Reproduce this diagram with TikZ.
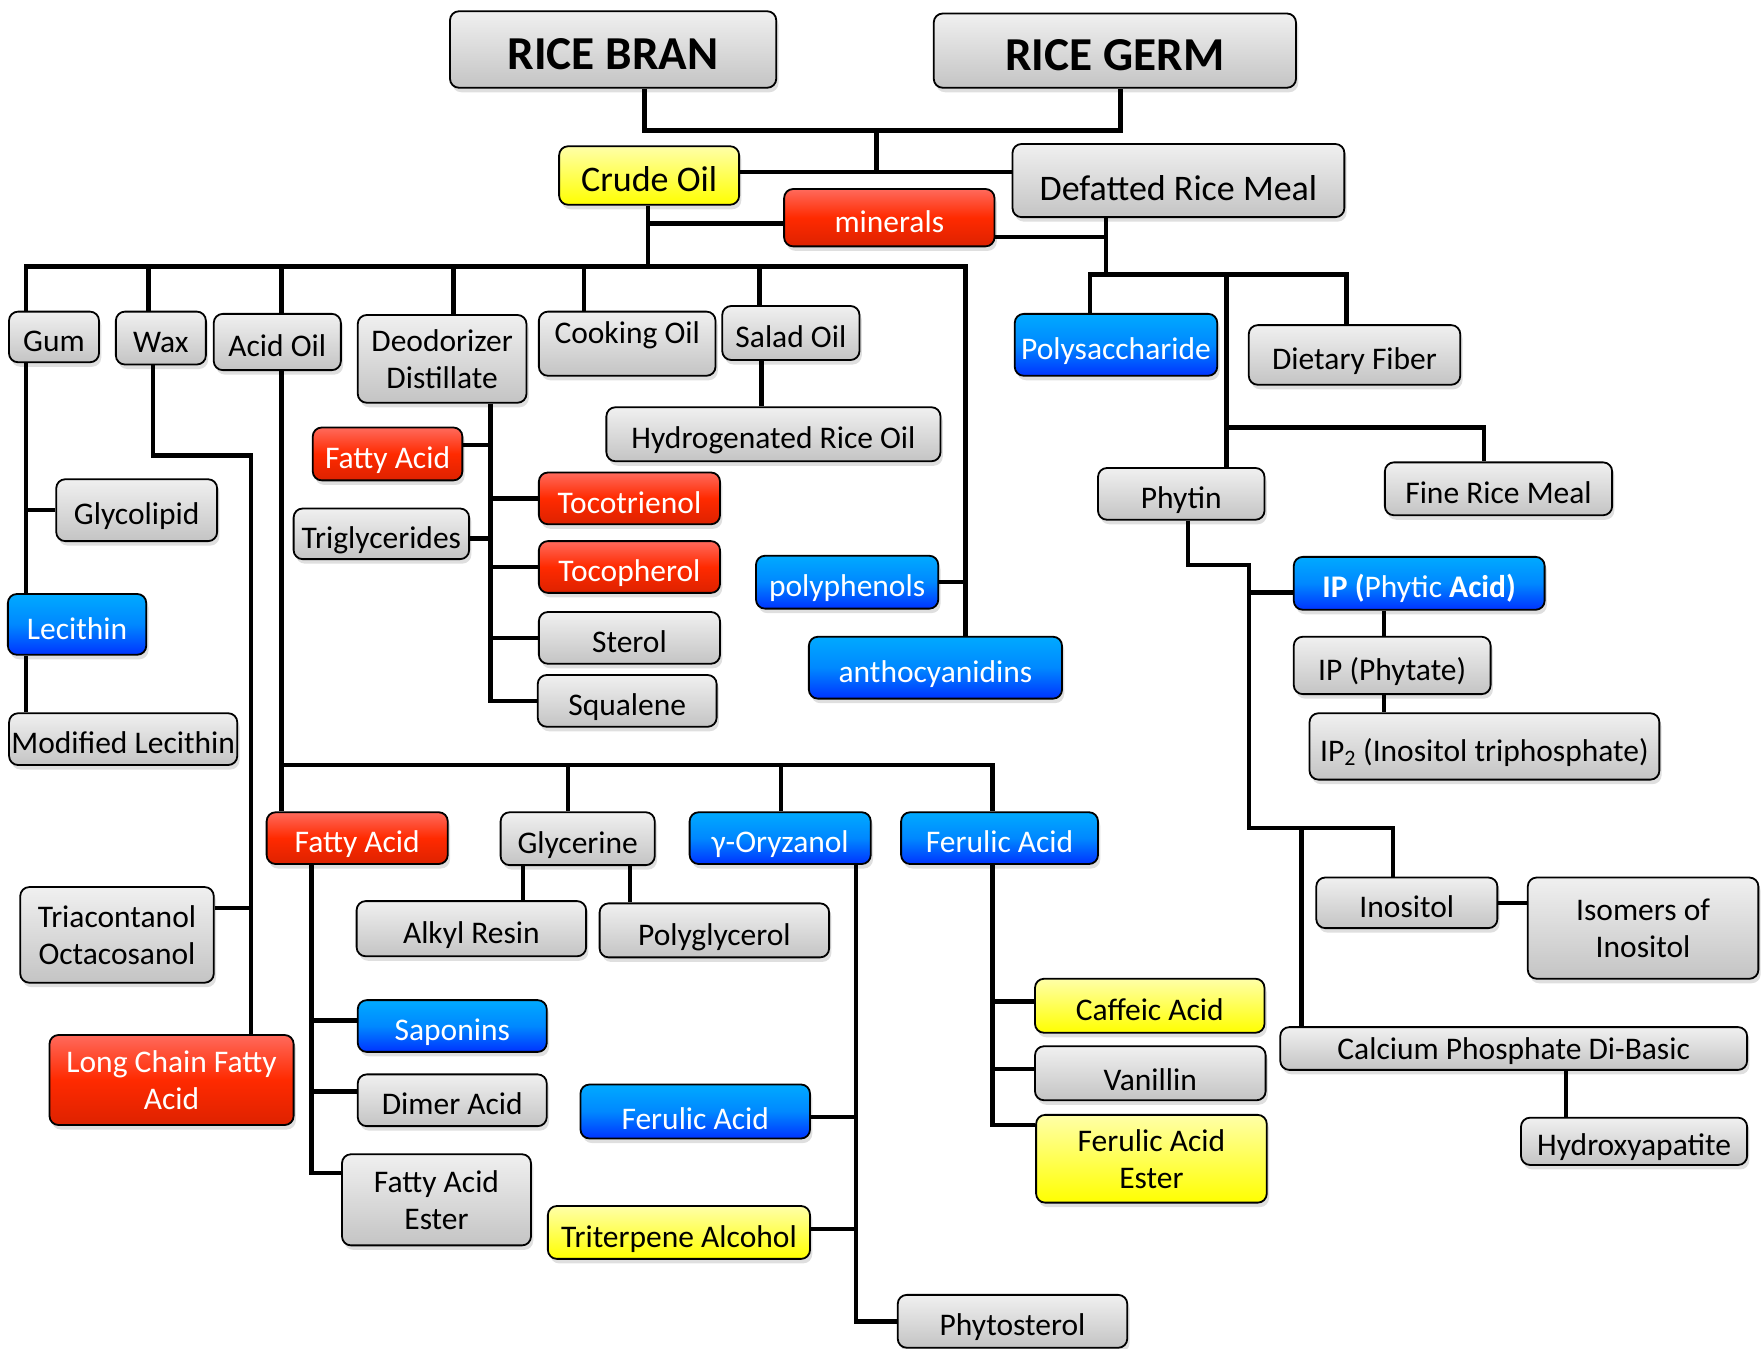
\documentclass[tikz,border=0pt]{standalone}
\usepackage{fontspec}
\setmainfont{Carlito}
\usetikzlibrary{shadows}
\definecolor{graytop}{HTML}{F0F0F0}
\definecolor{graybot}{HTML}{C4C4C4}
\definecolor{redtop}{HTML}{FF6A5C}
\definecolor{redmid}{HTML}{FF2A00}
\definecolor{redbot}{HTML}{DD2200}
\definecolor{bluetop}{HTML}{00AAFF}
\definecolor{bluemid}{HTML}{0088FF}
\definecolor{bluebot}{HTML}{0033FF}
\definecolor{yeltop}{HTML}{FFFFA8}
\definecolor{yelbot}{HTML}{FFFF00}

\begin{document}
\begin{tikzpicture}[x=1pt, y=-1pt]

      \tikzset{box/.style={draw=black, line width=1.6pt, rounded corners=8pt, inner sep=2pt, align=center,
                 font=\fontsize{28}{33}\selectfont, text height=32pt, text depth=6pt,
                 drop shadow={shadow xshift=2pt, shadow yshift=-4pt, opacity=.25}},
               twolines/.style={text height={}, text depth={}},
               greybox/.style={box, top color=graytop, bottom color=graybot, text=black},
               redbox/.style={box, top color=redtop, bottom color=redbot, middle color=redmid, text=white},
               bluebox/.style={box, top color=bluetop, bottom color=bluebot, middle color=bluemid, text=white},
               yellowbox/.style={box, top color=yeltop, bottom color=yelbot, text=black},
               title/.style={font=\bfseries\fontsize{42}{48}\selectfont, text height=44pt, text depth=9pt},
               conn/.style={line width=4pt}}
      \useasboundingbox (0,0) rectangle (1568,1199);
%% Sources
      \node[greybox, title, minimum width=290pt, minimum height=68pt] (bran) at (545,44) {RICE BRAN};
      \node[greybox, title, minimum width=322pt, minimum height=66pt] (germ) at (991,45) {RICE GERM};
      \node[yellowbox, font=\fontsize{32}{38}\selectfont, text height=35pt, text depth=6.4pt, minimum width=160pt, minimum height=52pt] (crude) at (577,156) {Crude Oil};
      \node[greybox, font=\fontsize{32}{38}\selectfont, text height=42pt, text depth=6.4pt, minimum width=295pt, minimum height=65pt] (defatted) at (1047.5,160.5) {Defatted Rice Meal};
      \node[redbox, minimum width=187pt, minimum height=51pt] (minerals) at (790.5,193.5) {minerals};
%% Crude oil products
      \node[greybox, minimum width=80pt, minimum height=45pt] (gum) at (48,299.5) {Gum};
      \node[greybox, minimum width=80pt, minimum height=47pt] (wax) at (143,300.5) {Wax};
      \node[greybox, minimum width=113pt, minimum height=50pt] (acidoil) at (246.5,304) {Acid Oil};
      \node[greybox, twolines, minimum width=150pt, minimum height=78pt] (deod) at (393,319) {Deodorizer\\Distillate};
      \node[greybox, minimum width=157pt, minimum height=57pt, text height=19pt, text depth=20pt] (cooking) at (557.5,305.5) {Cooking Oil};
      \node[greybox, minimum width=122pt, minimum height=48pt] (salad) at (703,296) {Salad Oil};
      \node[greybox, minimum width=297pt, minimum height=48pt] (hydro) at (687.5,386) {Hydrogenated Rice Oil};
      \node[bluebox, minimum width=162pt, minimum height=47pt] (polyph) at (753,517.5) {polyphenols};
      \node[bluebox, minimum width=225pt, minimum height=55pt] (antho) at (831.5,593.5) {anthocyanidins};
%% Gum and wax
      \node[greybox, minimum width=143pt, minimum height=55pt] (glycolipid) at (121.5,453.5) {Glycolipid};
      \node[bluebox, minimum width=123pt, minimum height=54pt] (lecithin) at (68.5,555) {Lecithin};
      \node[greybox, minimum width=201pt, minimum height=46pt] (modlec) at (109.5,657) {Modified Lecithin};
      \node[greybox, twolines, minimum width=172pt, minimum height=85pt] (triacont) at (104,831) {Triacontanol\\Octacosanol};
      \node[redbox, twolines, minimum width=217pt, minimum height=80pt] (longchain) at (152.5,960) {Long Chain Fatty\\Acid};
%% Deodorizer distillate
      \node[redbox, minimum width=133pt, minimum height=47pt] (fatty1) at (344.5,403.5) {Fatty Acid};
      \node[greybox, minimum width=156pt, minimum height=45pt] (trigly) at (339,474.5) {Triglycerides};
      \node[redbox, minimum width=161pt, minimum height=46pt] (tocotri) at (559.5,443) {Tocotrienol};
      \node[redbox, minimum width=161pt, minimum height=46pt] (tocoph) at (559.5,504) {Tocopherol};
      \node[greybox, minimum width=161pt, minimum height=46pt] (sterol) at (559.5,567) {Sterol};
      \node[greybox, minimum width=159pt, minimum height=46pt] (squalene) at (557.5,623) {Squalene};
%% Acid oil
      \node[redbox, minimum width=161pt, minimum height=46pt] (fatty2) at (317.5,745) {Fatty Acid};
      \node[greybox, minimum width=137pt, minimum height=47pt] (glycerine) at (513.5,745.5) {Glycerine};
      \node[bluebox, minimum width=161pt, minimum height=46pt] (oryzanol) at (693.5,745) {γ-Oryzanol};
      \node[bluebox, minimum width=175pt, minimum height=46pt] (ferulic1) at (888.5,745) {Ferulic Acid};
      \node[greybox, minimum width=204pt, minimum height=49pt] (alkyl) at (419,825.5) {Alkyl Resin};
      \node[greybox, minimum width=204pt, minimum height=48pt] (polyglyc) at (635,827) {Polyglycerol};
      \node[bluebox, minimum width=168pt, minimum height=46pt] (saponins) at (402,912) {Saponins};
      \node[greybox, minimum width=168pt, minimum height=46pt] (dimer) at (402,978) {Dimer Acid};
      \node[greybox, twolines, minimum width=168pt, minimum height=81pt] (faester) at (388,1066.5) {Fatty Acid\\Ester};
      \node[bluebox, minimum width=204pt, minimum height=48pt, text height=38pt] (ferulic2) at (618,988) {Ferulic Acid};
      \node[yellowbox, minimum width=233pt, minimum height=47pt] (triterp) at (603.5,1095.5) {Triterpene Alcohol};
      \node[greybox, minimum width=204pt, minimum height=47pt] (phytost) at (900,1174.5) {Phytosterol};
      \node[yellowbox, minimum width=204pt, minimum height=48pt] (caffeic) at (1022,894) {Caffeic Acid};
      \node[greybox, minimum width=205pt, minimum height=48pt, text height=36pt] (vanillin) at (1022.5,954) {Vanillin};
      \node[yellowbox, twolines, minimum width=205pt, minimum height=78pt] (ferester) at (1023.5,1030) {Ferulic Acid\\Ester};
%% Defatted rice meal
      \node[bluebox, minimum width=180pt, minimum height=55pt] (polysacch) at (992,306.5) {Polysaccharide};
      \node[greybox, minimum width=188pt, minimum height=53pt] (fiber) at (1204,315.5) {Dietary Fiber};
      \node[greybox, minimum width=148pt, minimum height=46pt] (phytin) at (1050,439) {Phytin};
      \node[greybox, minimum width=202pt, minimum height=47pt] (finemeal) at (1332,434.5) {Fine Rice Meal};
      \node[bluebox, minimum width=223pt, minimum height=47pt] (phytic) at (1261.5,518.5) {\textbf{IP (}Phytic \textbf{Acid)}};
      \node[greybox, minimum width=175pt, minimum height=51pt] (phytate) at (1237.5,591.5) {IP (Phytate)};
      \node[greybox, minimum width=311pt, minimum height=59pt] (ip2) at (1319.5,663.5) {IP\textsubscript{2} (Inositol triphosphate)};
      \node[greybox, minimum width=161pt, minimum height=45pt] (inositol) at (1250.5,802.5) {Inositol};
      \node[greybox, twolines, minimum width=205pt, minimum height=90pt] (isomers) at (1460.5,825) {Isomers of\\Inositol};
      \node[greybox, minimum width=415pt, minimum height=38pt, text height=26pt] (calcium) at (1345.5,932) {Calcium Phosphate Di-Basic};
      \node[greybox, minimum width=201pt, minimum height=41pt] (hydroxy) at (1452.5,1014.5) {Hydroxyapatite};
%Junctions
      \coordinate (jbran) at (573,116); \coordinate (jgerm) at (996,116);
      \coordinate (jtop) at (779,116);  \coordinate (jmid) at (779,153);
      \coordinate (joil) at (576,237);  \coordinate (busL) at (23,237); \coordinate (busR) at (858,237);
      \coordinate (twax) at (132,237);  \coordinate (tacidoil) at (250,237); \coordinate (tdeod) at (403,237);
      \coordinate (tcooking) at (519,237); \coordinate (tsalad) at (675,237);
      \coordinate (jwax1) at (136,405); \coordinate (jwax2) at (223,405);
      \coordinate (jdeo) at (436,623);  \coordinate (jsal) at (677,320);
      \coordinate (jacid) at (250,680); \coordinate (jferu) at (882,680);
      \coordinate (tglycerine) at (505,680); \coordinate (toryzanol) at (694,680);
      \coordinate (jfa) at (277,768);   \coordinate (jalk) at (465,769); \coordinate (jpg) at (560,769);
      \coordinate (jory) at (761,768);
      \coordinate (jdef) at (983,244);  \coordinate (jpoly) at (969,244); \coordinate (jfib) at (1197,244);
      \coordinate (jphy) at (1090,244); \coordinate (jfine) at (1319,380);
      \coordinate (jphyt1) at (1056,502); \coordinate (jphyt2) at (1110,502);
      \coordinate (jino1) at (1110,736); \coordinate (jino2) at (1238,736); \coordinate (jcal) at (1157,736);
      \coordinate (jip) at (1230,542);  \coordinate (jhyd) at (1392,951);
%Edges
      \draw[conn] (bran.south -| jbran) -- (jbran) -- (jgerm) -- (germ.south -| jgerm);
      \draw[conn] (jtop) -- (jmid);
      \draw[conn] (crude.east |- jmid) -- (defatted.west |- jmid);
      \draw[conn] (crude.south -| joil) -- (joil);
      \draw[conn] ([yshift=-5pt]minerals.west) -- ([yshift=-5pt]minerals.west -| joil);
      \draw[conn] (busL |- gum.north) -- (busL) -- (busR) -- (busR |- antho.north);
      \foreach \n in {wax, acidoil, deod, cooking, salad}
        \draw[conn] (t\n) -- (t\n |- \n.north);
      \draw[conn] (salad.south -| jsal) -- (hydro.north -| jsal);
      \draw[conn] (polyph.east) -- (polyph.east -| busR);
      % gum and wax
      \draw[conn] (busL |- gum.south) -- (busL |- lecithin.north);
      \draw[conn] (glycolipid.west) -- (glycolipid.west -| busL);
      \draw[conn] (busL |- lecithin.south) -- (busL |- modlec.north);
      \draw[conn] (wax.south -| jwax1) -- (jwax1) -- (jwax2) -- (jwax2 |- longchain.north);
      \draw[conn] ([yshift=24pt]triacont.east) -- ([yshift=24pt]triacont.east -| jwax2);
      % deodorizer distillate
      \draw[conn] (deod.south -| jdeo) -- (jdeo) -- (squalene.west |- jdeo);
      \foreach \n in {tocotri, tocoph, sterol}
        \draw[conn] (\n.west) -- (\n.west -| jdeo);
      \draw[conn] ([yshift=8pt]fatty1.east) -- ([yshift=8pt]fatty1.east -| jdeo);
      \draw[conn] ([yshift=-4pt]trigly.east) -- ([yshift=-4pt]trigly.east -| jdeo);
      % acid oil
      \draw[conn] (acidoil.south -| jacid) -- (jacid |- fatty2.north);
      \draw[conn] (jacid) -- (jferu) -- (jferu |- ferulic1.north);
      \foreach \n in {glycerine, oryzanol}
        \draw[conn] (t\n) -- (t\n |- \n.north);
      \draw[conn] (fatty2.south -| jfa) -- ([yshift=24pt]faester.west -| jfa) -- ([yshift=24pt]faester.west);
      \draw[conn] ([yshift=5pt]saponins.west) -- ([yshift=5pt]saponins.west -| jfa);
      \draw[conn] ([yshift=8pt]dimer.west) -- ([yshift=8pt]dimer.west -| jfa);
      \draw[conn] (glycerine.south -| jalk) -- (alkyl.north -| jalk);
      \draw[conn] (glycerine.south -| jpg) -- (polyglyc.north -| jpg);
      \draw[conn] (oryzanol.south -| jory) -- (jory |- phytost.west) -- (phytost.west);
      \draw[conn] ([yshift=-5pt]ferulic2.east) -- ([yshift=-5pt]ferulic2.east -| jory);
      \draw[conn] ([yshift=3pt]triterp.east) -- ([yshift=3pt]triterp.east -| jory);
      \draw[conn] (ferulic1.south -| jferu) -- ([yshift=30pt]ferester.west -| jferu) -- ([yshift=30pt]ferester.west);
      \draw[conn] ([yshift=4pt]caffeic.west) -- ([yshift=4pt]caffeic.west -| jferu);
      \draw[conn] ([yshift=4pt]vanillin.west) -- ([yshift=4pt]vanillin.west -| jferu);
      % defatted rice meal
      \draw[conn] (defatted.south -| jdef) -- (jdef);
      \draw[conn] ([yshift=-17pt]minerals.east) -- ([yshift=-17pt]minerals.east -| jdef);
      \draw[conn] (jpoly |- polysacch.north) -- (jpoly) -- (jfib) -- (jfib |- fiber.north);
      \draw[conn] (jphy) -- (jphy |- phytin.north);
      \draw[conn] (jphy |- jfine) -- (jfine) -- (jfine |- finemeal.north);
      % phytin
      \draw[conn] (phytin.south -| jphyt1) -- (jphyt1) -- (jphyt2) -- (jino1) -- (jino2) -- (jino2 |- inositol.north);
      \draw[conn] (jcal) -- (jcal |- calcium.north);
      \draw[conn] ([yshift=-8pt]phytic.west) -- ([yshift=-8pt]phytic.west -| jphyt2);
      \draw[conn] (phytic.south -| jip) -- (phytate.north -| jip);
      \draw[conn] (phytate.south -| jip) -- (ip2.north -| jip);
      \draw[conn] (inositol.east) -- (isomers.west |- inositol.east);
      \draw[conn] (calcium.south -| jhyd) -- (hydroxy.north -| jhyd);

\end{tikzpicture}
\end{document}
